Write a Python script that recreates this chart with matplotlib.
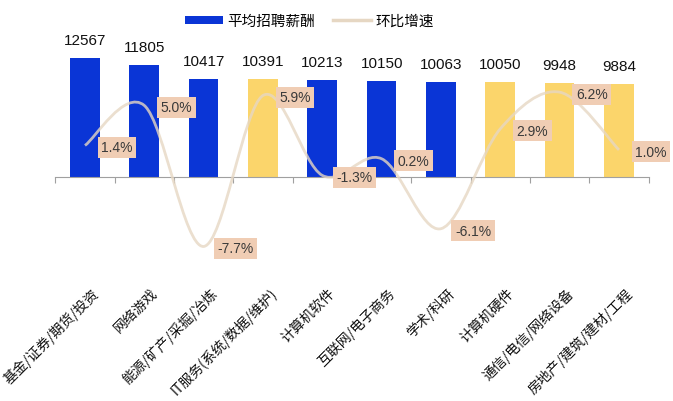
import matplotlib.pyplot as plt
from matplotlib.path import Path
from matplotlib.patches import PathPatch
from matplotlib.lines import Line2D

plt.rcParams['font.family'] = ['Noto Sans CJK SC', 'DejaVu Sans']

categories = ['基金/证券/期货/投资', '网络游戏', '能源/矿产/采掘/冶炼',
              'IT服务(系统/数据/维护)', '计算机软件', '互联网/电子商务',
              '学术/科研', '计算机硬件', '通信/电信/网络设备', '房地产/建筑/建材/工程']
salary = [12567, 11805, 10417, 10391, 10213, 10150, 10063, 10050, 9948, 9884]
growth = [1.4, 5.0, -7.7, 5.9, -1.3, 0.2, -6.1, 2.9, 6.2, 1.0]
highlighted = ['IT服务(系统/数据/维护)', '计算机硬件', '通信/电信/网络设备', '房地产/建筑/建材/工程']

BLUE = '#0A35D6'
YELLOW = '#FBD56B'
LINE = '#E6D7C3'
BOX = '#F0CDB4'
GRAY = '#A0A0A0'

fig = plt.figure(figsize=(6.73, 4.02), dpi=100)
ax = fig.add_axes([0.0822, 0.3035, 0.8816, 0.6219])
ax2 = ax.twinx()

x = list(range(len(categories)))
colors = [YELLOW if c in highlighted else BLUE for c in categories]
bars = ax.bar(x, salary, width=0.5, color=colors, zorder=2)

ax.set_xlim(-0.5, len(categories) - 0.5)
ax.set_ylim(-10794, 15661)
ax2.set_ylim(-10.63, 11.89)

# value labels above bars
for i, v in enumerate(salary):
    ax.annotate(str(v), xy=(i, v), xytext=(0, 11), textcoords='offset pixels',
                ha='center', va='bottom', fontsize=11, family='Liberation Sans',
                color='#111111')

# smooth growth line (Bezier through the points)
pts = list(zip(x, growth))
verts = [pts[0]]
codes = [Path.MOVETO]
n = len(pts)
for i in range(n - 1):
    p0 = pts[i - 1] if i > 0 else pts[i]
    p1 = pts[i]
    p2 = pts[i + 1]
    p3 = pts[i + 2] if i + 2 < n else pts[i + 1]
    c1 = (p1[0] + (p2[0] - p0[0]) / 6, p1[1] + (p2[1] - p0[1]) / 6)
    c2 = (p2[0] - (p3[0] - p1[0]) / 6, p2[1] - (p3[1] - p1[1]) / 6)
    verts += [c1, c2, p2]
    codes += [Path.CURVE4] * 3
ax2.add_patch(PathPatch(Path(verts, codes), facecolor='none', edgecolor=LINE,
                        lw=2.0, alpha=0.8, zorder=3))

for i, g in enumerate(growth):
    ax2.annotate(f'{g:.1f}%', xy=(i, g), xytext=(32, -2), textcoords='offset pixels',
                 ha='center', va='center', fontsize=10, family='Liberation Sans',
                 color='#3A3A3A', zorder=5,
                 bbox=dict(boxstyle='square,pad=0.25', fc=BOX, ec='none'))

# axes styling
for a in (ax, ax2):
    for s in ['top', 'left', 'right']:
        a.spines[s].set_visible(False)
    a.set_yticks([])
ax2.spines['bottom'].set_visible(False)
ax.spines['bottom'].set_position(('data', 0))
ax.spines['bottom'].set_color(GRAY)
ax.set_xticks([i - 0.5 for i in range(len(categories) + 1)])
ax.set_xticklabels([])
ax.tick_params(axis='x', direction='out', length=4, color=GRAY, width=0.8)

for i, lbl in enumerate(categories):
    ax.annotate(lbl, xy=(i, 0), xycoords=ax.get_xaxis_transform(),
                xytext=(6, -6), textcoords='offset pixels',
                rotation=45, rotation_mode='anchor', ha='right', va='top',
                fontsize=10, color='#111111')

handles = [bars, Line2D([0], [0], color=LINE, lw=2.5)]
fig.legend(handles, ['平均招聘薪酬', '环比增速'], loc='center',
           bbox_to_anchor=(0.46, 0.945), ncol=2, frameon=False, fontsize=10.5,
           handlelength=2.6, handleheight=0.55, columnspacing=1.2, handletextpad=0.3)

plt.savefig('out.png', dpi=100)
